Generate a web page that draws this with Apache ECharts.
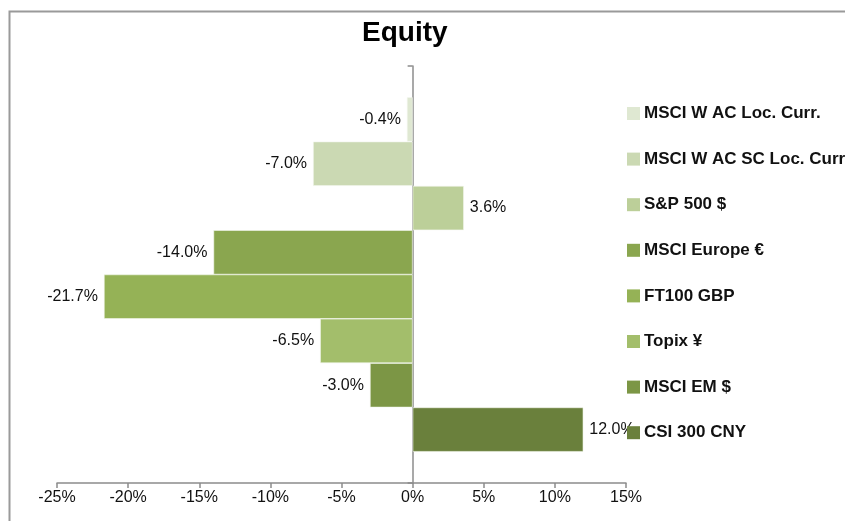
<!DOCTYPE html>
<html>
<head>
<meta charset="utf-8">
<script src="https://cdn.jsdelivr.net/npm/echarts@6/dist/echarts.min.js"></script>
<style>
  html, body { margin: 0; padding: 0; background: #fff; }
  #equity_chart { width: 845px; height: 521px; }
</style>
</head>
<body>
<div id="equity_chart"></div>
<script>
// index names, one series per index (as in the original chart)
const indexNames = [
    'MSCI W AC Loc. Curr.',
    'MSCI W AC SC Loc. Curr.',
    'S&P 500 $',
    'MSCI Europe €',
    'FT100 GBP',
    'Topix ¥',
    'MSCI EM $',
    'CSI 300 CNY'
];
// returns in %
const returns = [-0.4, -7.0, 3.6, -14.0, -21.7, -6.5, -3.0, 12.0];
const barColors = ['#dfe8d2', '#cbd9b3', '#bccf99', '#8aa64f', '#95b256', '#a3be6b', '#7c9645', '#6a803c'];
const axisMin = -25;
const axisMax = 15;
const axisStep = 5;

const narrowFont = "'Liberation Sans Narrow', 'Arial Narrow', 'Liberation Sans', Arial, sans-serif";
const boldFont = "'Liberation Sans', Arial, sans-serif";

const chartDom = document.getElementById('equity_chart');
const myChart = echarts.init(chartDom);

const series = indexNames.map(function (name, i) {
    const v = returns[i];
    return {
        name: name,
        type: 'bar',
        barGap: '0%',
        barCategoryGap: '15%',
        itemStyle: {
            color: barColors[i],
            borderColor: '#f4f7ee',
            borderWidth: 0.6
        },
        label: {
            show: true,
            position: v < 0 ? 'left' : 'right',
            distance: 6,
            formatter: function (p) {
                return p.value.toFixed(1) + '%';
            },
            fontFamily: narrowFont,
            fontSize: 16,
            color: '#111'
        },
        data: [v]
    };
});

const option = {
    animation: false,
    title: {
        text: 'Equity',
        left: 357,
        top: 14,
        textStyle: {
            fontFamily: boldFont,
            fontWeight: 'bold',
            fontSize: 28,
            color: '#000'
        }
    },
    legend: {
        orient: 'vertical',
        left: 622,
        top: 100,
        itemWidth: 13,
        itemHeight: 13,
        itemGap: 28.6,
        icon: 'rect',
        itemStyle: { borderWidth: 0 },
        data: indexNames,
        textStyle: {
            fontFamily: boldFont,
            fontWeight: 'bold',
            fontSize: 17,
            color: '#111',
            padding: [0, 0, 0, -1]
        }
    },
    grid: {
        left: 57,
        right: 219,
        top: 66,
        bottom: 38,
        containLabel: false
    },
    xAxis: {
        type: 'value',
        min: axisMin,
        max: axisMax,
        interval: axisStep,
        splitLine: { show: false },
        axisLine: {
            show: true,
            onZero: false,
            lineStyle: { color: '#8c8c8c', width: 1.5 }
        },
        axisTick: {
            show: true,
            length: 5,
            lineStyle: { color: '#8c8c8c', width: 1.5 }
        },
        axisLabel: {
            formatter: '{value}%',
            fontFamily: narrowFont,
            fontSize: 16,
            color: '#111',
            margin: 7
        }
    },
    yAxis: {
        type: 'category',
        inverse: true,
        data: [''],
        axisLine: {
            show: true,
            onZero: true,
            lineStyle: { color: '#8c8c8c', width: 1.5 }
        },
        axisTick: {
            show: true,
            length: 5,
            lineStyle: { color: '#8c8c8c', width: 1.5 }
        },
        axisLabel: { show: false }
    },
    graphic: [
        {
            type: 'polyline',
            silent: true,
            shape: { points: [[9.5, 521], [9.5, 11.5], [845, 11.5]] },
            style: { stroke: '#9a9a9a', lineWidth: 2, fill: null }
        }
    ],
    series: series
};

option && myChart.setOption(option);
</script>
</body>
</html>
